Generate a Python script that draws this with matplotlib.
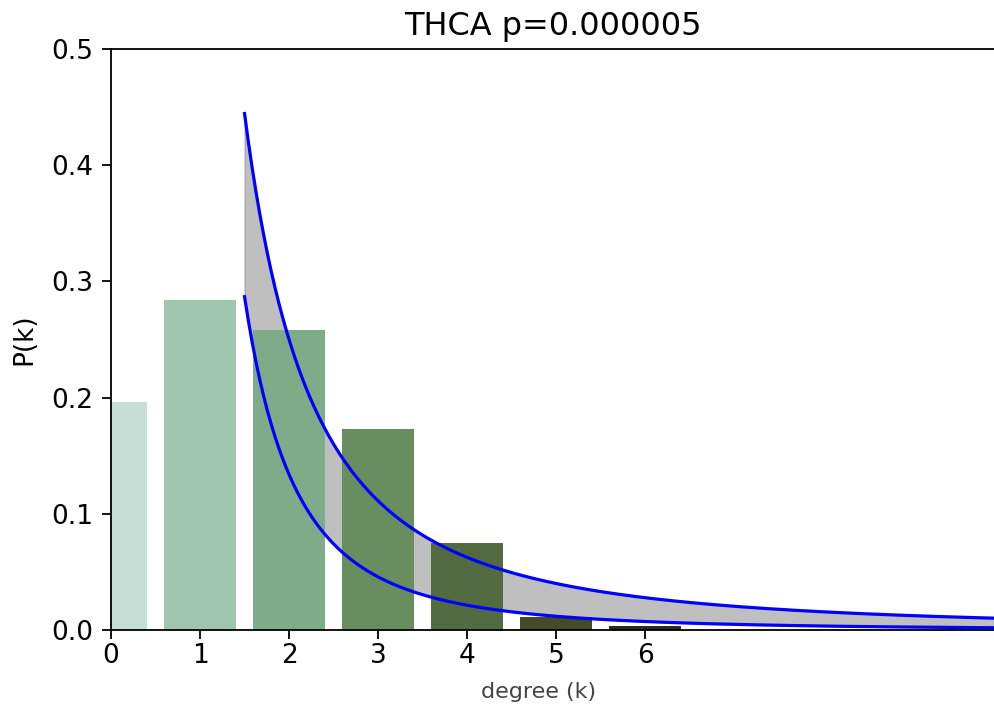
import numpy as np
import matplotlib
matplotlib.use("Agg")
import matplotlib.pyplot as plt

# degree distribution
degrees = [0, 1, 2, 3, 4, 5, 6]
probs = [0.196, 0.284, 0.258, 0.173, 0.075, 0.011, 0.003]
bar_colors = ["#c6dfd6", "#a0c6b0", "#7fac88", "#688e60", "#536b40", "#434b28", "#2b2b18"]

# power-law bounds P(k) = C * k^-alpha, estimated from the two blue curves
k_min, k_max = 1.5, 10.0
upper_C, upper_alpha = 1.0, 2.0
lower_C, lower_alpha = 0.84, 2.65

title = "THCA p=0.000005"

fig = plt.figure(figsize=(9.94, 7.12), dpi=100)
ax = fig.add_axes([0.1117, 0.1152, 0.8883, 0.816])

k = np.linspace(k_min, k_max, 400)
upper = upper_C * k ** -upper_alpha
lower = lower_C * k ** -lower_alpha

ax.fill_between(k, lower, upper, color="gray", alpha=0.5, zorder=1)
ax.bar(degrees, probs, width=0.8, color=bar_colors, zorder=2)
ax.plot(k, upper, color="#0000ff", lw=2.3, zorder=3)
ax.plot(k, lower, color="#0000ff", lw=2.3, zorder=3)

ax.set_xlim(0, 9.92)
ax.set_ylim(0, 0.5)
ax.set_xticks(degrees)
ax.set_yticks([0.0, 0.1, 0.2, 0.3, 0.4, 0.5])
ax.tick_params(labelsize=19, width=1.3, length=6.5)
ax.tick_params(axis="y", pad=6.5)
ax.tick_params(axis="x", pad=3)
ax.spines["right"].set_visible(False)
for s in ["left", "bottom", "top"]:
    ax.spines[s].set_linewidth(1.3)

ax.set_title(title, fontsize=23, pad=10)
ax.set_xlabel("degree (k)", fontsize=16, color="#444444")
ax.xaxis.set_label_coords(0.484, -0.09)
ax.set_ylabel("P(k)", fontsize=19, labelpad=10)

fig.savefig("out.png", dpi=100)
